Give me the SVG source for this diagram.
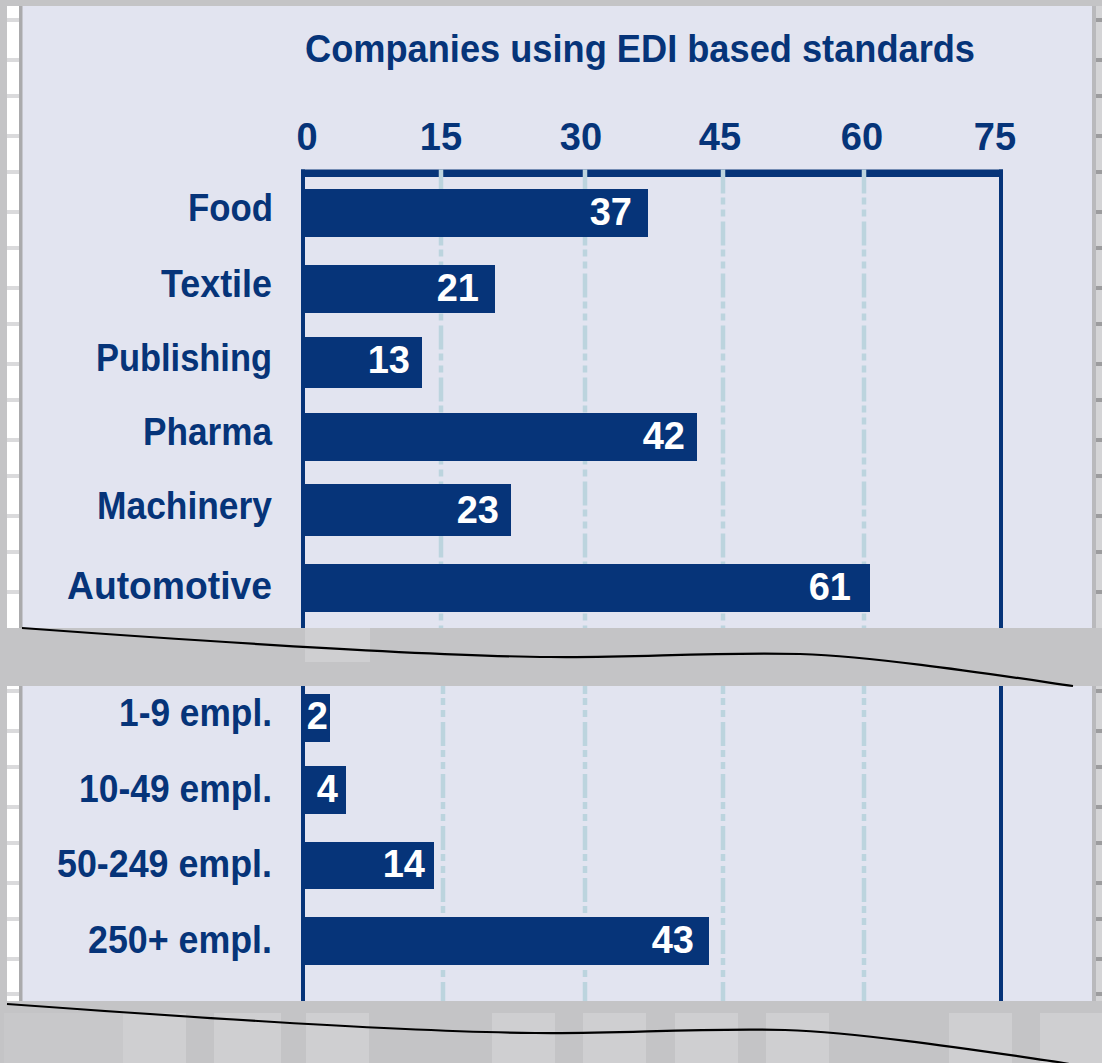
<svg xmlns="http://www.w3.org/2000/svg" width="1102" height="1063" viewBox="0 0 1102 1063">
<defs>
<style>
.t{font-family:"Liberation Sans",Arial,Helvetica,sans-serif;font-weight:bold;font-size:38px}
.lbl{fill:#063479}
.cat{text-anchor:end}
.ax{text-anchor:middle}
.val{fill:#ffffff;text-anchor:end}
.bar{fill:#063479}
.frame{fill:#063479}
.grid{stroke:#bcd4de;stroke-width:4.5;stroke-dasharray:24 4 7 5 7 5;fill:none}
.brk{fill:none;stroke:#000000;stroke-width:2.2}
.gray{fill:#c4c4c6}
.lt{fill:#cfcfd1}
.tick{fill:#dadadc}
.tickd{fill:#9c9c9e}
</style>
</defs>

<g id="background">
  <rect x="0" y="0" width="1102" height="1063" class="gray"/>
  <rect x="22" y="6" width="1070" height="995" fill="#e2e4f0"/>
  <rect x="7" y="6" width="12" height="995" fill="#ffffff"/>
  <rect x="19" y="6" width="3.5" height="995" fill="#aaaaac"/>
  <rect x="1092" y="6" width="4" height="995" fill="#b9b9bc"/>
  <rect x="1096" y="6" width="6" height="995" fill="#d4d4d6"/>
  <g id="left-ticks">
    <rect x="7" y="18" width="12" height="4" class="tick"/>
    <rect x="7" y="58" width="12" height="4" class="tick"/>
    <rect x="7" y="94" width="12" height="4" class="tick"/>
    <rect x="7" y="134" width="12" height="4" class="tick"/>
    <rect x="7" y="170" width="12" height="4" class="tick"/>
    <rect x="7" y="210" width="12" height="4" class="tick"/>
    <rect x="7" y="246" width="12" height="4" class="tick"/>
    <rect x="7" y="286" width="12" height="4" class="tick"/>
    <rect x="7" y="322" width="12" height="4" class="tick"/>
    <rect x="7" y="362" width="12" height="4" class="tick"/>
    <rect x="7" y="398" width="12" height="4" class="tick"/>
    <rect x="7" y="438" width="12" height="4" class="tick"/>
    <rect x="7" y="474" width="12" height="4" class="tick"/>
    <rect x="7" y="514" width="12" height="4" class="tick"/>
    <rect x="7" y="550" width="12" height="4" class="tick"/>
    <rect x="7" y="590" width="12" height="4" class="tick"/>
    <rect x="7" y="689" width="12" height="4" class="tick"/>
    <rect x="7" y="729" width="12" height="4" class="tick"/>
    <rect x="7" y="765" width="12" height="4" class="tick"/>
    <rect x="7" y="805" width="12" height="4" class="tick"/>
    <rect x="7" y="841" width="12" height="4" class="tick"/>
    <rect x="7" y="881" width="12" height="4" class="tick"/>
    <rect x="7" y="917" width="12" height="4" class="tick"/>
    <rect x="7" y="957" width="12" height="4" class="tick"/>
    <rect x="7" y="992" width="12" height="4" class="tick"/>
  </g>
  <g id="right-ticks">
    <rect x="1096" y="18" width="6" height="4" class="tickd"/>
    <rect x="1096" y="58" width="6" height="4" class="tickd"/>
    <rect x="1096" y="94" width="6" height="4" class="tickd"/>
    <rect x="1096" y="134" width="6" height="4" class="tickd"/>
    <rect x="1096" y="170" width="6" height="4" class="tickd"/>
    <rect x="1096" y="210" width="6" height="4" class="tickd"/>
    <rect x="1096" y="246" width="6" height="4" class="tickd"/>
    <rect x="1096" y="286" width="6" height="4" class="tickd"/>
    <rect x="1096" y="322" width="6" height="4" class="tickd"/>
    <rect x="1096" y="362" width="6" height="4" class="tickd"/>
    <rect x="1096" y="398" width="6" height="4" class="tickd"/>
    <rect x="1096" y="438" width="6" height="4" class="tickd"/>
    <rect x="1096" y="474" width="6" height="4" class="tickd"/>
    <rect x="1096" y="514" width="6" height="4" class="tickd"/>
    <rect x="1096" y="550" width="6" height="4" class="tickd"/>
    <rect x="1096" y="590" width="6" height="4" class="tickd"/>
    <rect x="1096" y="689" width="6" height="4" class="tickd"/>
    <rect x="1096" y="729" width="6" height="4" class="tickd"/>
    <rect x="1096" y="765" width="6" height="4" class="tickd"/>
    <rect x="1096" y="805" width="6" height="4" class="tickd"/>
    <rect x="1096" y="841" width="6" height="4" class="tickd"/>
    <rect x="1096" y="881" width="6" height="4" class="tickd"/>
    <rect x="1096" y="917" width="6" height="4" class="tickd"/>
    <rect x="1096" y="957" width="6" height="4" class="tickd"/>
    <rect x="1096" y="992" width="6" height="4" class="tickd"/>
  </g>
</g>

<g id="title">
  <text class="t lbl" x="305" y="62" textLength="670" lengthAdjust="spacingAndGlyphs">Companies using EDI based standards</text>
</g>

<g id="axis-labels" class="t lbl ax">
  <text x="307" y="150">0</text>
  <text x="441" y="150">15</text>
  <text x="581" y="150">30</text>
  <text x="720" y="150">45</text>
  <text x="862" y="150">60</text>
  <text x="995" y="150">75</text>
</g>

<g id="frame">
  <rect x="301" y="169.5" width="702" height="7.5" class="frame"/>
  <rect x="301" y="169.5" width="4" height="832" class="frame"/>
  <rect x="999" y="169.5" width="4" height="832" class="frame"/>
</g>

<g id="grid">
  <line x1="441" y1="169.5" x2="441" y2="628" class="grid"/>
  <line x1="585" y1="169.5" x2="585" y2="628" class="grid"/>
  <line x1="723" y1="169.5" x2="723" y2="628" class="grid"/>
  <line x1="864" y1="169.5" x2="864" y2="628" class="grid"/>
  <line x1="443" y1="686" x2="443" y2="1001" class="grid" stroke-dashoffset="16"/>
  <line x1="585" y1="686" x2="585" y2="1001" class="grid" stroke-dashoffset="16"/>
  <line x1="723" y1="686" x2="723" y2="1001" class="grid" stroke-dashoffset="16"/>
  <line x1="864" y1="686" x2="864" y2="1001" class="grid" stroke-dashoffset="16"/>
</g>

<g id="bars">
  <g id="bar-food">
    <rect x="301" y="189" width="347" height="48" class="bar"/>
    <text class="t cat lbl" x="273" y="221" textLength="85" lengthAdjust="spacingAndGlyphs">Food</text>
    <text class="t val" x="632" y="225">37</text>
  </g>
  <g id="bar-textile">
    <rect x="301" y="265" width="194" height="48" class="bar"/>
    <text class="t cat lbl" x="272" y="297" textLength="111" lengthAdjust="spacingAndGlyphs">Textile</text>
    <text class="t val" x="479" y="301">21</text>
  </g>
  <g id="bar-publishing">
    <rect x="301" y="337" width="121" height="51" class="bar"/>
    <text class="t cat lbl" x="272" y="371" textLength="176" lengthAdjust="spacingAndGlyphs">Publishing</text>
    <text class="t val" x="410" y="373">13</text>
  </g>
  <g id="bar-pharma">
    <rect x="301" y="413" width="396" height="48" class="bar"/>
    <text class="t cat lbl" x="272" y="445" textLength="129" lengthAdjust="spacingAndGlyphs">Pharma</text>
    <text class="t val" x="685" y="449">42</text>
  </g>
  <g id="bar-machinery">
    <rect x="301" y="484" width="210" height="52" class="bar"/>
    <text class="t cat lbl" x="272" y="519" textLength="175" lengthAdjust="spacingAndGlyphs">Machinery</text>
    <text class="t val" x="499" y="523">23</text>
  </g>
  <g id="bar-automotive">
    <rect x="301" y="564" width="569" height="48" class="bar"/>
    <text class="t cat lbl" x="272" y="599" textLength="205" lengthAdjust="spacingAndGlyphs">Automotive</text>
    <text class="t val" x="851" y="600">61</text>
  </g>
  <g id="bar-1-9">
    <rect x="301" y="694" width="29" height="48" class="bar"/>
    <text class="t cat lbl" x="272" y="726" textLength="153" lengthAdjust="spacingAndGlyphs">1-9 empl.</text>
    <text class="t val" x="328" y="729">2</text>
  </g>
  <g id="bar-10-49">
    <rect x="301" y="766" width="45" height="48" class="bar"/>
    <text class="t cat lbl" x="272" y="802" textLength="193" lengthAdjust="spacingAndGlyphs">10-49 empl.</text>
    <text class="t val" x="338" y="802">4</text>
  </g>
  <g id="bar-50-249">
    <rect x="301" y="842" width="133" height="47" class="bar"/>
    <text class="t cat lbl" x="272" y="877" textLength="215" lengthAdjust="spacingAndGlyphs">50-249 empl.</text>
    <text class="t val" x="425" y="877">14</text>
  </g>
  <g id="bar-250plus">
    <rect x="301" y="917" width="408" height="48" class="bar"/>
    <text class="t cat lbl" x="272" y="953" textLength="184" lengthAdjust="spacingAndGlyphs">250+ empl.</text>
    <text class="t val" x="694" y="953">43</text>
  </g>
</g>

<g id="break-band">
  <rect x="0" y="628" width="1102" height="58" class="gray"/>
  <rect x="305" y="628" width="65" height="34" class="lt"/>
</g>

<g id="bottom-band">
  <rect x="0" y="1001" width="1102" height="62" class="gray"/>
  <rect x="4" y="1013" width="119" height="50" fill="#c8c8ca"/>
  <rect x="123" y="1013" width="63" height="50" class="lt"/>
  <rect x="214" y="1013" width="67" height="50" class="lt"/>
  <rect x="306" y="1013" width="63" height="50" class="lt"/>
  <rect x="492" y="1013" width="63" height="50" class="lt"/>
  <rect x="583" y="1013" width="63" height="50" class="lt"/>
  <rect x="675" y="1013" width="63" height="50" class="lt"/>
  <rect x="766" y="1013" width="63" height="50" class="lt"/>
  <rect x="949" y="1013" width="63" height="50" class="lt"/>
  <rect x="1040" y="1013" width="62" height="50" class="lt"/>
</g>

<g id="connectors">
  <path class="brk" d="M22,628 C200,641 420,656 550,657 C640,658 700,652 800,654 C880,657 990,674 1073,686"/>
  <path class="brk" d="M7,1004 C185,1017 405,1032 535,1033 C625,1034 685,1028 785,1030 C865,1033 975,1050 1058,1062 L1080,1066"/>
</g>
</svg>
